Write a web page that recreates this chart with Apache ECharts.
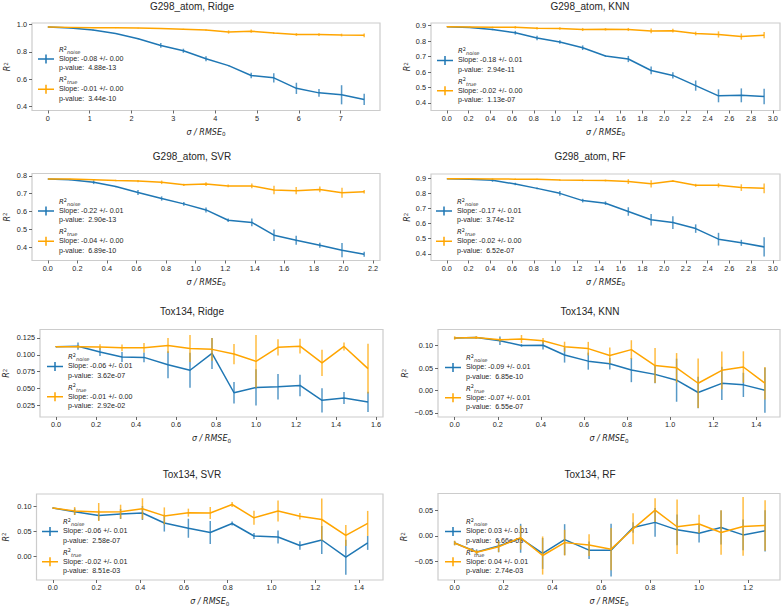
<!DOCTYPE html>
<html><head><meta charset="utf-8">
<script src="https://cdn.jsdelivr.net/npm/echarts@6/dist/echarts.min.js"></script>
<style>html,body{margin:0;padding:0;background:#fff}#c{width:784px;height:609px}</style>
</head><body><div id="c"></div>
<script>
// ---------------- DATA ----------------
// G298_atom, Ridge
const g298RidgeX = [0, 0.54, 1.08, 1.62, 2.16, 2.70, 3.24, 3.78, 4.32, 4.86, 5.40, 5.94, 6.48, 7.02, 7.56];
const g298RidgeNoise = [0.982, 0.975, 0.960, 0.935, 0.897, 0.848, 0.809, 0.751, 0.700, 0.628, 0.611, 0.534, 0.501, 0.487, 0.453];
const g298RidgeNoiseErr = [0, 0.002, 0.003, 0.003, 0.004, 0.017, 0.015, 0.018, 0.005, 0.02, 0.034, 0.041, 0.029, 0.07, 0.041];
const g298RidgeTrue = [0.982, 0.980, 0.978, 0.977, 0.975, 0.972, 0.966, 0.960, 0.946, 0.952, 0.938, 0.928, 0.927, 0.924, 0.922];
const g298RidgeTrueErr = [0, 0.002, 0.002, 0.003, 0.003, 0.004, 0.004, 0.005, 0.012, 0.012, 0.006, 0.01, 0.01, 0.01, 0.014];
// G298_atom, KNN
const g298KnnX = [0, 0.21, 0.42, 0.63, 0.83, 1.04, 1.25, 1.46, 1.67, 1.88, 2.08, 2.29, 2.50, 2.71, 2.92];
const g298KnnNoise = [0.893, 0.888, 0.875, 0.854, 0.820, 0.794, 0.757, 0.704, 0.684, 0.610, 0.578, 0.512, 0.446, 0.449, 0.442];
const g298KnnNoiseErr = [0, 0.003, 0.005, 0.012, 0.015, 0.012, 0.015, 0.005, 0.02, 0.025, 0.02, 0.033, 0.042, 0.045, 0.05];
const g298KnnTrue = [0.893, 0.891, 0.889, 0.889, 0.883, 0.882, 0.875, 0.876, 0.875, 0.866, 0.867, 0.849, 0.843, 0.829, 0.838];
const g298KnnTrueErr = [0.002, 0.003, 0.004, 0.008, 0.008, 0.008, 0.01, 0.008, 0.01, 0.015, 0.012, 0.012, 0.02, 0.02, 0.02];
// G298_atom, SVR
const g298SvrX = [0, 0.15, 0.31, 0.46, 0.61, 0.77, 0.92, 1.07, 1.22, 1.38, 1.53, 1.68, 1.84, 1.99, 2.14];
const g298SvrNoise = [0.783, 0.778, 0.764, 0.740, 0.707, 0.673, 0.643, 0.609, 0.551, 0.539, 0.467, 0.439, 0.411, 0.383, 0.360];
const g298SvrNoiseErr = [0, 0.003, 0.01, 0.004, 0.014, 0.012, 0.01, 0.014, 0.01, 0.022, 0.032, 0.025, 0.014, 0.04, 0.014];
const g298SvrTrue = [0.783, 0.782, 0.778, 0.774, 0.771, 0.764, 0.750, 0.754, 0.744, 0.744, 0.721, 0.717, 0.724, 0.705, 0.711];
const g298SvrTrueErr = [0, 0.002, 0.004, 0.004, 0.006, 0.01, 0.006, 0.01, 0.008, 0.014, 0.024, 0.02, 0.016, 0.028, 0.01];
// G298_atom, RF
const g298RfX = [0, 0.21, 0.42, 0.63, 0.83, 1.04, 1.25, 1.46, 1.67, 1.88, 2.08, 2.29, 2.50, 2.71, 2.92];
const g298RfNoise = [0.896, 0.893, 0.886, 0.862, 0.833, 0.800, 0.752, 0.735, 0.680, 0.625, 0.607, 0.567, 0.497, 0.473, 0.446];
const g298RfNoiseErr = [0, 0.003, 0.01, 0.008, 0.006, 0.016, 0.012, 0.012, 0.028, 0.038, 0.042, 0.028, 0.042, 0.02, 0.064];
const g298RfTrue = [0.896, 0.896, 0.895, 0.894, 0.893, 0.889, 0.886, 0.885, 0.878, 0.863, 0.881, 0.853, 0.853, 0.838, 0.833];
const g298RfTrueErr = [0, 0.002, 0.003, 0.004, 0.004, 0.005, 0.006, 0.006, 0.016, 0.024, 0.006, 0.01, 0.014, 0.022, 0.032];
// Tox134, Ridge
const toxRidgeX = [0, 0.11, 0.22, 0.33, 0.44, 0.56, 0.67, 0.78, 0.89, 1.00, 1.11, 1.22, 1.33, 1.44, 1.56];
const toxRidgeNoise = [0.112, 0.1127, 0.104, 0.0968, 0.0961, 0.0853, 0.077, 0.102, 0.0436, 0.0515, 0.0525, 0.0544, 0.0324, 0.0358, 0.0299];
const toxRidgeNoiseErr = [0.001, 0.0054, 0.006, 0.0074, 0.0074, 0.02, 0.026, 0.023, 0.016, 0.027, 0.019, 0.016, 0.018, 0.009, 0.015];
const toxRidgeTrue = [0.112, 0.112, 0.1115, 0.1103, 0.1105, 0.1137, 0.1093, 0.108, 0.101, 0.0902, 0.111, 0.1127, 0.088, 0.1123, 0.0794];
const toxRidgeTrueErr = [0.001, 0.0025, 0.004, 0.005, 0.007, 0.011, 0.02, 0.017, 0.015, 0.039, 0.012, 0.011, 0.0196, 0.006, 0.037];
// Tox134, KNN
const toxKnnX = [0, 0.10, 0.21, 0.31, 0.41, 0.51, 0.62, 0.72, 0.82, 0.93, 1.03, 1.13, 1.24, 1.34, 1.44];
const toxKnnNoise = [0.117, 0.118, 0.111, 0.1005, 0.101, 0.0793, 0.0655, 0.0596, 0.0456, 0.036, 0.023, -0.0044, 0.016, 0.0126, 0.0007];
const toxKnnNoiseErr = [0.002, 0.002, 0.0096, 0.003, 0.0096, 0.017, 0.019, 0.013, 0.027, 0.02, 0.048, 0.035, 0.037, 0.027, 0.05];
const toxKnnTrue = [0.117, 0.118, 0.113, 0.1148, 0.111, 0.0978, 0.0934, 0.078, 0.0911, 0.0556, 0.0505, 0.0162, 0.0451, 0.0524, 0.0162];
const toxKnnTrueErr = [0.004, 0.003, 0.004, 0.009, 0.006, 0.011, 0.015, 0.018, 0.021, 0.039, 0.033, 0.055, 0.042, 0.035, 0.036];
// Tox134, SVR
const toxSvrX = [0, 0.10, 0.21, 0.31, 0.41, 0.51, 0.62, 0.72, 0.82, 0.92, 1.03, 1.13, 1.23, 1.34, 1.44];
const toxSvrNoise = [0.0968, 0.0895, 0.0818, 0.0851, 0.087, 0.0669, 0.0565, 0.048, 0.066, 0.041, 0.039, 0.022, 0.033, -0.0013, 0.0273];
const toxSvrNoiseErr = [0.001, 0.0065, 0.01, 0.01, 0.014, 0.017, 0.019, 0.023, 0.004, 0.006, 0.013, 0.0085, 0.028, 0.035, 0.014];
const toxSvrTrue = [0.0968, 0.091, 0.089, 0.0896, 0.0955, 0.0812, 0.0877, 0.087, 0.104, 0.0773, 0.091, 0.0805, 0.074, 0.0422, 0.0662];
const toxSvrTrueErr = [0.001, 0.008, 0.018, 0.014, 0.021, 0.017, 0.008, 0.012, 0.005, 0.014, 0.021, 0.0065, 0.042, 0.021, 0.025];
// Tox134, RF
const toxRfX = [0, 0.09, 0.18, 0.27, 0.36, 0.45, 0.55, 0.64, 0.73, 0.82, 0.91, 1.00, 1.09, 1.18, 1.27];
const toxRfNoise = [-0.0138, -0.031, -0.0197, -0.0046, -0.034, -0.0072, -0.0276, -0.0276, 0.0164, 0.0263, 0.0118, 0.0053, 0.0164, 0.002, 0.0099];
const toxRfNoiseErr = [0.004, 0.005, 0.012, 0.028, 0.03, 0.03, 0.017, 0.051, 0.01, 0.028, 0.03, 0.018, 0.033, 0.03, 0.04];
const toxRfTrue = [-0.0138, -0.0316, -0.021, -0.0033, -0.038, -0.013, -0.0178, -0.0257, 0.0138, 0.05, 0.0178, 0.023, 0.0066, 0.0184, 0.0204];
const toxRfTrueErr = [0.0046, 0.004, 0.0105, 0.023, 0.037, 0.025, 0.021, 0.041, 0.03, 0.023, 0.053, 0.018, 0.043, 0.057, 0.049];

// Titles
const titles = ['G298_atom, Ridge', 'G298_atom, KNN', 'G298_atom, SVR', 'G298_atom, RF',
                'Tox134, Ridge', 'Tox134, KNN', 'Tox134, SVR', 'Tox134, RF'];
// Legend statistics (noise, true)
const slopeNoise = ['-0.08 +/- 0.00', '-0.18 +/- 0.01', '-0.22 +/- 0.01', '-0.17 +/- 0.01', '-0.06 +/- 0.01', '-0.09 +/- 0.01', '-0.06 +/- 0.01', '0.03 +/- 0.01'];
const pNoise = ['4.88e-13', '2.94e-11', '2.90e-13', '3.74e-12', '3.62e-07', '6.85e-10', '2.58e-07', '6.66e-03'];
const slopeTrue = ['-0.01 +/- 0.00', '-0.02 +/- 0.00', '-0.04 +/- 0.00', '-0.02 +/- 0.00', '-0.01 +/- 0.00', '-0.07 +/- 0.01', '-0.02 +/- 0.01', '0.04 +/- 0.01'];
const pTrue = ['3.44e-10', '1.13e-07', '6.89e-10', '6.52e-07', '2.92e-02', '6.55e-07', '8.51e-03', '2.74e-03'];

// Tick labels
const g298RidgeXTicks = ['0', '1', '2', '3', '4', '5', '6', '7'];
const g298KnnXTicks = ['0.0','0.2','0.4','0.6','0.8','1.0','1.2','1.4','1.6','1.8','2.0','2.2','2.4','2.6','2.8','3.0'];
const g298SvrXTicks = ['0.0','0.2','0.4','0.6','0.8','1.0','1.2','1.4','1.6','1.8','2.0','2.2'];
const g298RfXTicks = ['0.0','0.2','0.4','0.6','0.8','1.0','1.2','1.4','1.6','1.8','2.0','2.2','2.4','2.6','2.8','3.0'];
const toxRidgeXTicks = ['0.0','0.2','0.4','0.6','0.8','1.0','1.2','1.4','1.6'];
const toxKnnXTicks = ['0.0','0.2','0.4','0.6','0.8','1.0','1.2','1.4'];
const toxSvrXTicks = ['0.0','0.2','0.4','0.6','0.8','1.0','1.2','1.4'];
const toxRfXTicks = ['0.0','0.2','0.4','0.6','0.8','1.0','1.2'];
const g298RidgeYTicks = ['0.4', '0.6', '0.8', '1.0'];
const g298KnnYTicks = ['0.4', '0.5', '0.6', '0.7', '0.8', '0.9'];
const g298SvrYTicks = ['0.4', '0.5', '0.6', '0.7', '0.8'];
const g298RfYTicks = ['0.4', '0.5', '0.6', '0.7', '0.8', '0.9'];
const toxRidgeYTicks = ['0.025', '0.050', '0.075', '0.100', '0.125'];
const toxKnnYTicks = ['\u22120.05', '0.00', '0.05', '0.10'];
const toxSvrYTicks = ['0.00', '0.05', '0.10'];
const toxRfYTicks = ['\u22120.05', '0.00', '0.05'];

// ---------------- LAYOUT ----------------
const BLUE = '#1f77b4', ORANGE = '#ffa500';
const FONT = '"Liberation Sans", Arial, sans-serif';
const MATH = '"DejaVu Sans", sans-serif';
const TXT = '#262626';

const panels = [
  {x:g298RidgeX, n:g298RidgeNoise, ne:g298RidgeNoiseErr, t:g298RidgeTrue, te:g298RidgeTrueErr, xt:g298RidgeXTicks, yt:g298RidgeYTicks,
   grid:[32,23,348,87.5], xr:[-0.378,7.938], yr:[0.372,1.012], yGap:19.5, title:[192,1.5], leg:[38,45]},
  {x:g298KnnX, n:g298KnnNoise, ne:g298KnnNoiseErr, t:g298KnnTrue, te:g298KnnTrueErr, xt:g298KnnXTicks, yt:g298KnnYTicks,
   grid:[431,23,349,87.5], xr:[-0.146,3.066], yr:[0.351,0.917], yGap:10.5, title:[590,1.5], leg:[437,46.5]},
  {x:g298SvrX, n:g298SvrNoise, ne:g298SvrNoiseErr, t:g298SvrTrue, te:g298SvrTrueErr, xt:g298SvrXTicks, yt:g298SvrYTicks,
   grid:[32,173.5,348,87], xr:[-0.107,2.247], yr:[0.325,0.8135], yGap:20, title:[192,151], leg:[38,197]},
  {x:g298RfX, n:g298RfNoise, ne:g298RfNoiseErr, t:g298RfTrue, te:g298RfTrueErr, xt:g298RfXTicks, yt:g298RfYTicks,
   grid:[431,174,349,86.5], xr:[-0.146,3.066], yr:[0.356,0.928], yGap:9.5, title:[590,151], leg:[436,197]},
  {x:toxRidgeX, n:toxRidgeNoise, ne:toxRidgeNoiseErr, t:toxRidgeTrue, te:toxRidgeTrueErr, xt:toxRidgeXTicks, yt:toxRidgeYTicks,
   grid:[40,329.5,343,87.5], xr:[-0.08,1.635], yr:[0.0076,0.1375], yGap:28.5, title:[192,306], leg:[47,352.5]},
  {x:toxKnnX, n:toxKnnNoise, ne:toxKnnNoiseErr, t:toxKnnTrue, te:toxKnnTrueErr, xt:toxKnnXTicks, yt:toxKnnYTicks,
   grid:[438,329.5,342,87.5], xr:[-0.0775,1.51], yr:[-0.059,0.136], yGap:27.5, title:[590,306], leg:[445,353.5]},
  {x:toxSvrX, n:toxSvrNoise, ne:toxSvrNoiseErr, t:toxSvrTrue, te:toxSvrTrueErr, xt:toxSvrXTicks, yt:toxSvrYTicks,
   grid:[36,494,347,86], xr:[-0.0745,1.51], yr:[-0.047,0.125], yGap:25.5, title:[192,469], leg:[42,517.5]},
  {x:toxRfX, n:toxRfNoise, ne:toxRfNoiseErr, t:toxRfTrue, te:toxRfTrueErr, xt:toxRfXTicks, yt:toxRfYTicks,
   grid:[438,493.5,342,86.5], xr:[-0.068,1.331], yr:[-0.0855,0.0823], yGap:28.5, title:[590,469], leg:[445,517.5]}
];

const num = s => parseFloat(String(s).replace('\u2212', '-'));
function labelFor(v, labels) {
  let best = labels[0], d = Infinity;
  labels.forEach(l => { const dd = Math.abs(num(l) - v); if (dd < d) { d = dd; best = l; } });
  return best;
}

const legendIcon = 'path://M0,37.5h160v15h-160z M72.5,0h15v90h-15z';
const legendRich = {
  r: {fontFamily: MATH, fontStyle: 'italic', fontSize: 7, lineHeight: 9.3, color: TXT},
  sup: {fontFamily: MATH, fontSize: 5, lineHeight: 9.3, verticalAlign: 'top', color: TXT},
  sub: {fontFamily: MATH, fontStyle: 'italic', fontSize: 5, lineHeight: 9.3, verticalAlign: 'bottom', color: TXT},
  t: {fontFamily: FONT, fontSize: 7.1, lineHeight: 9.3, color: TXT}
};
const legendText = {};

const option = {
  animation: false,
  backgroundColor: '#ffffff',
  title: [], grid: [], xAxis: [], yAxis: [], legend: [], series: []
};

function errSeries(name, i, xs, ys, es, color, z) {
  return {
    name: name, type: 'custom', xAxisIndex: i, yAxisIndex: i, z: z, silent: true,
    data: xs.map((xv, j) => [xv, ys[j] - es[j], ys[j] + es[j]]),
    encode: {x: 0, y: [1, 2]},
    renderItem: (params, api) => {
      const a = api.coord([api.value(0), api.value(1)]);
      const b = api.coord([api.value(0), api.value(2)]);
      return {type: 'line', shape: {x1: a[0], y1: a[1], x2: b[0], y2: b[1]},
              style: {stroke: color, lineWidth: 1.5, opacity: 0.75}};
    }
  };
}

panels.forEach((p, i) => {
  const nName = titles[i] + ' noise', tName = titles[i] + ' true';
  legendText[nName] = '{r|R}{sup|2}{sub|noise}\n{t|Slope: ' + slopeNoise[i] + '}\n{t|p-value:  ' + pNoise[i] + '}';
  legendText[tName] = '{r|R}{sup|2}{sub|true}\n{t|Slope: ' + slopeTrue[i] + '}\n{t|p-value:  ' + pTrue[i] + '}';

  option.title.push({text: titles[i], left: p.title[0], top: p.title[1], textAlign: 'center', padding: 0,
    textStyle: {fontFamily: FONT, fontSize: 10, fontWeight: 'normal', color: TXT}});
  option.grid.push({left: p.grid[0], top: p.grid[1], width: p.grid[2], height: p.grid[3], show: true,
    borderColor: '#cccccc', borderWidth: 1.2, backgroundColor: 'transparent'});
  const xv = p.xt.map(num), yv = p.yt.map(num);
  option.xAxis.push({type: 'value', gridIndex: i, min: p.xr[0], max: p.xr[1],
    name: '{i|\u03c3 / RMSE}{s|0}', nameLocation: 'middle', nameGap: 16.5,
    nameTextStyle: {rich: {i: {fontFamily: MATH, fontStyle: 'italic', fontSize: 8, color: TXT, lineHeight: 10},
                           s: {fontFamily: MATH, fontSize: 5.6, color: TXT, verticalAlign: 'bottom', lineHeight: 10}}},
    axisLine: {show: false, onZero: false},
    axisTick: {show: true, length: 3, customValues: xv, lineStyle: {color: '#444', width: 0.8}},
    axisLabel: {customValues: xv, formatter: v => labelFor(v, p.xt), margin: 4, fontFamily: FONT, fontSize: 7.3, color: TXT},
    splitLine: {show: false}});
  option.yAxis.push({type: 'value', gridIndex: i, min: p.yr[0], max: p.yr[1],
    name: '{r|R}{s|2}', nameLocation: 'middle', nameGap: p.yGap,
    nameTextStyle: {rich: {r: {fontFamily: MATH, fontStyle: 'italic', fontSize: 8, color: TXT, lineHeight: 10},
                           s: {fontFamily: MATH, fontSize: 5.6, color: TXT, verticalAlign: 'top', lineHeight: 10}}},
    axisLine: {show: false, onZero: false},
    axisTick: {show: true, length: 3, customValues: yv, lineStyle: {color: '#444', width: 0.8}},
    axisLabel: {customValues: yv, formatter: v => labelFor(v, p.yt), margin: 5, fontFamily: FONT, fontSize: 7.3, color: TXT},
    splitLine: {show: false}});
  option.legend.push({orient: 'vertical', left: p.leg[0], top: p.leg[1], padding: 0, itemGap: 2.5,
    itemWidth: 16, itemHeight: 9, icon: legendIcon, selectedMode: false,
    itemStyle: {borderWidth: 0},
    data: [nName, tName], formatter: name => legendText[name],
    textStyle: {fontFamily: FONT, fontSize: 7.1, lineHeight: 9.3, color: TXT, rich: legendRich}});

  option.series.push(errSeries(nName + ' err', i, p.x, p.n, p.ne, BLUE, 2));
  option.series.push({name: nName, type: 'line', xAxisIndex: i, yAxisIndex: i, z: 3, color: BLUE,
    symbol: 'none', lineStyle: {width: 1.5, color: BLUE}, data: p.x.map((xv2, j) => [xv2, p.n[j]])});
  option.series.push(errSeries(tName + ' err', i, p.x, p.t, p.te, ORANGE, 4));
  option.series.push({name: tName, type: 'line', xAxisIndex: i, yAxisIndex: i, z: 5, color: ORANGE,
    symbol: 'none', lineStyle: {width: 1.5, color: ORANGE}, data: p.x.map((xv2, j) => [xv2, p.t[j]])});
});

const chart = echarts.init(document.getElementById('c'), null, {renderer: 'svg', width: 784, height: 609});
chart.setOption(option);
</script></body></html>
